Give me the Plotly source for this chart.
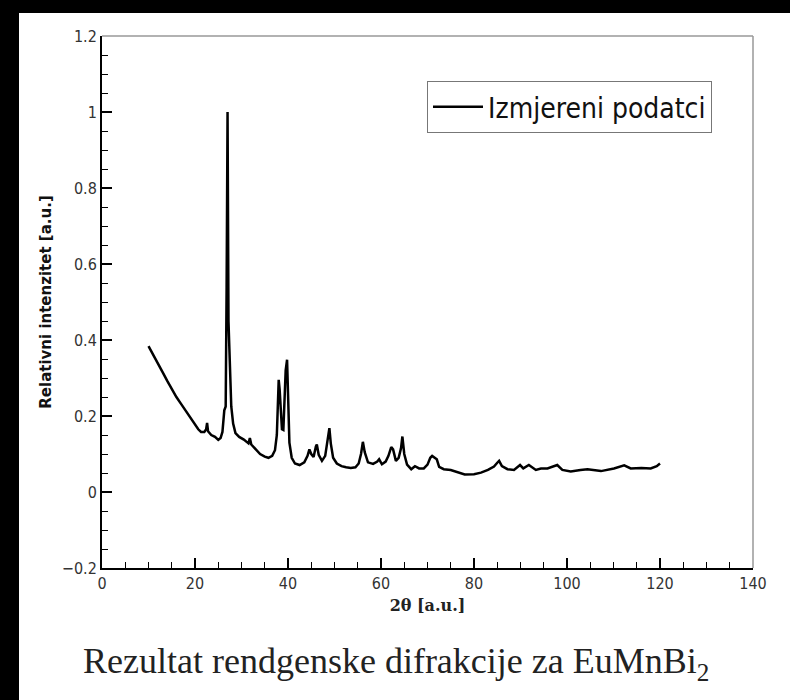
import plotly.graph_objects as go

two_theta = [10.0, 10.5, 11.0, 12.0, 13.0, 14.0, 15.0, 16.0, 17.0, 18.0, 19.0, 20.0, 20.7, 21.3, 22.0,
             22.4, 22.6, 22.8, 23.5, 24.3, 25.0, 25.5, 25.9, 26.3, 26.6, 26.8, 27.0, 27.2, 27.5, 27.8,
             28.2, 28.7, 29.5, 30.5, 31.5, 31.8, 32.1, 33.0, 34.0, 35.0, 35.8, 36.6, 37.2, 37.6, 37.8,
             38.0, 38.2, 38.4, 38.7, 39.0, 39.3, 39.5, 39.8, 40.0, 40.3, 40.8, 41.5, 42.5, 43.5, 44.2,
             44.6, 45.0, 45.5, 46.0, 46.2, 46.6, 47.3, 48.0, 48.5, 48.9, 49.2, 49.7, 50.5, 51.5, 52.5,
             53.5, 54.5, 55.2, 55.7, 56.1, 56.5, 57.2, 58.3, 59.2, 59.6, 60.2, 61.0, 61.6, 62.2, 62.6,
             63.2, 63.8, 64.3, 64.6, 65.0, 65.6, 66.5, 67.3, 68.2, 69.2, 70.0, 70.6, 71.0, 71.6, 72.0,
             72.5, 73.5, 75.0, 76.5, 78.0, 80.0, 81.5, 83.0, 84.3, 85.0, 85.4, 86.0, 87.2, 88.6, 89.9,
             90.6, 91.8, 93.3, 94.4, 95.8, 97.9, 99.0, 100.8, 102.9, 104.4, 107.3, 110.1, 112.3, 113.7,
             116.0, 118.0, 119.3, 120.0]
intensity = [0.384, 0.372, 0.360, 0.338, 0.316, 0.293, 0.270, 0.250, 0.232, 0.213, 0.195, 0.178, 0.165, 0.158, 0.158,
             0.165, 0.182, 0.160, 0.150, 0.145, 0.137, 0.142, 0.158, 0.215, 0.225, 0.54, 1.0, 0.45, 0.30, 0.225,
             0.180, 0.155, 0.145, 0.138, 0.128, 0.142, 0.125, 0.112, 0.100, 0.093, 0.090, 0.095, 0.110, 0.150, 0.22,
             0.295, 0.27, 0.22, 0.165, 0.163, 0.25, 0.32, 0.348, 0.26, 0.13, 0.09, 0.075, 0.071, 0.078, 0.095,
             0.112, 0.100, 0.092, 0.120, 0.125, 0.098, 0.082, 0.095, 0.13, 0.168, 0.128, 0.09, 0.075, 0.068, 0.065,
             0.063, 0.065, 0.075, 0.10, 0.132, 0.105, 0.078, 0.074, 0.080, 0.086, 0.073, 0.080, 0.095, 0.118, 0.112,
             0.082, 0.09, 0.115, 0.146, 0.100, 0.072, 0.060, 0.068, 0.062, 0.062, 0.072, 0.090, 0.095, 0.090, 0.086,
             0.066, 0.060, 0.058, 0.052, 0.046, 0.047, 0.051, 0.058, 0.067, 0.077, 0.082, 0.068, 0.060, 0.058, 0.071,
             0.062, 0.071, 0.058, 0.062, 0.062, 0.071, 0.058, 0.054, 0.058, 0.060, 0.055, 0.062, 0.070, 0.062,
             0.063, 0.062, 0.068, 0.075]

series_name = "Izmjereni podatci"
x_title = "2θ [a.u.]"
y_title = "Relativni intenzitet [a.u.]"
caption = "Rezultat rendgenske difrakcije za EuMnBi<sub>2</sub>"

SANS = "DejaVu Sans Condensed, DejaVu Sans, sans-serif"

fig = go.Figure()
fig.add_trace(go.Scatter(x=two_theta, y=intensity, mode="lines", name=series_name,
                         line=dict(color="black", width=2.5)))

axis_common = dict(
    showgrid=False, zeroline=False, showline=True, linecolor="black", linewidth=2,
    ticks="inside", ticklen=10, tickwidth=1.5, tickcolor="black",
    tickfont=dict(family=SANS, size=16, color="#333"),
)

fig.update_xaxes(range=[0, 140], dtick=20, tick0=0,
                 minor=dict(ticks="inside", ticklen=6, dtick=5, tickcolor="black", tickwidth=1.2),
                 title=dict(text=x_title, font=dict(family="DejaVu Serif", size=16, color="#222", weight="bold"),
                            standoff=8),
                 **axis_common)
fig.update_yaxes(range=[-0.2, 1.2], dtick=0.2, tick0=0,
                 minor=dict(ticks="inside", ticklen=6, dtick=0.05, tickcolor="black", tickwidth=1.2),
                 title=dict(text=y_title, font=dict(family="DejaVu Sans", size=15, color="#111", weight="bold"),
                            standoff=7),
                 **axis_common)

L, R, T, B = 102, 37, 36, 132
W, H = 790, 700
pw, ph = W - L - R, H - T - B

def px(xp):
    return (xp - L) / pw

def py(yp):
    return (H - B - yp) / ph

fig.update_layout(
    width=W, height=H,
    margin=dict(l=L, r=R, t=T, b=B),
    paper_bgcolor="black", plot_bgcolor="white",
    showlegend=True,
    legend=dict(x=px(427), y=py(81), xanchor="left", yanchor="top",
                bgcolor="white", bordercolor="#777", borderwidth=1,
                font=dict(family=SANS, size=28, color="#111"), itemwidth=50),
    shapes=[
        dict(type="rect", xref="paper", yref="paper", x0=px(19), x1=px(792), y0=py(702), y1=py(13),
             fillcolor="white", line=dict(width=0), layer="below"),
        dict(type="line", xref="paper", yref="paper", x0=0, x1=1, y0=1, y1=1,
             line=dict(color="#999", width=1.5), layer="above"),
        dict(type="line", xref="paper", yref="paper", x0=1, x1=1, y0=0, y1=1,
             line=dict(color="#999", width=1.5), layer="above"),
    ],
    annotations=[
        dict(text=caption, xref="paper", yref="paper", x=px(395.5), y=py(663),
             xanchor="center", yanchor="middle", showarrow=False,
             font=dict(family="Liberation Serif", size=36, color="#222")),
    ],
)

fig.write_html("out.html", config={"displayModeBar": False},
               post_script="document.body.style.margin='0';document.body.style.background='black';")
